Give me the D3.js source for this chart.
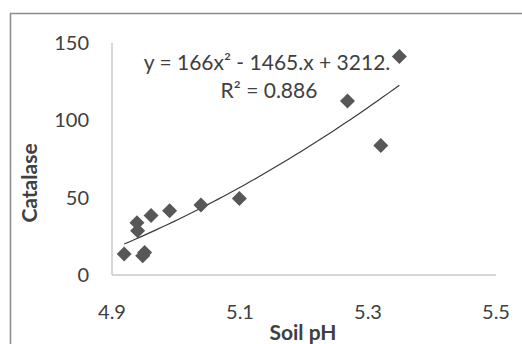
<!DOCTYPE html>
<html><head><meta charset="utf-8">
<script src="https://cdn.jsdelivr.net/npm/d3@7/dist/d3.min.js"></script>
<style>body{margin:0;background:#fff}svg{display:block}text{font-family:Lato,"Open Sans",sans-serif;fill:#404040}</style>
</head><body>
<script>
const soilPH   = [4.919, 4.948, 4.951, 4.939, 4.940, 4.961, 4.990, 5.039, 5.099, 5.268, 5.320, 5.349];
const catalase = [13.6, 12.5, 14.5, 33.8, 28.6, 38.4, 41.6, 45.3, 49.4, 112.5, 83.8, 141.2];
const xTicks = [4.9, 5.1, 5.3, 5.5];
const yTicks = [0, 50, 100, 150];
const eqLabel = "y = 166x\u00b2 - 1465.x + 3212.";
const r2Label = "R\u00b2 = 0.886";

const W = 522, H = 344;
const svg = d3.select("body").append("svg").attr("width", W).attr("height", H);
svg.append("rect").attr("x", 10.5).attr("y", 13.5).attr("width", 530).attr("height", 350)
  .attr("fill", "#fff").attr("stroke", "#8c8c8c").attr("stroke-width", 1.5);

const x = d3.scaleLinear().domain([4.9, 5.5]).range([112, 496]);
const y = d3.scaleLinear().domain([0, 150]).range([275, 43]);

// axes
svg.append("line").attr("x1", x(4.9)).attr("x2", x(4.9)).attr("y1", y(150)).attr("y2", y(0))
  .attr("stroke", "#c8c8c8").attr("stroke-width", 1.5);
svg.append("line").attr("x1", x(4.9)).attr("x2", x(5.5)).attr("y1", y(0)).attr("y2", y(0))
  .attr("stroke", "#c8c8c8").attr("stroke-width", 1.5);

svg.selectAll(".yt").data(yTicks).enter().append("text")
  .attr("x", 89).attr("y", d => y(d)).attr("dy", "0.35em").attr("text-anchor", "end")
  .attr("font-size", 20).text(d => d);
svg.selectAll(".xt").data(xTicks).enter().append("text")
  .attr("x", d => x(d)).attr("y", 319).attr("text-anchor", "middle")
  .attr("font-size", 20).text(d => d3.format(".1f")(d));

svg.append("text").attr("x", 303).attr("y", 340).attr("text-anchor", "middle")
  .attr("font-size", 21).attr("font-weight", "bold").text("Soil pH");
svg.append("text").attr("transform", "translate(37,183) rotate(-90)").attr("text-anchor", "middle")
  .attr("font-size", 21).attr("font-weight", "bold").text("Catalase");

// quadratic least squares fit
function fitQuad(xs, ys) {
  const n = xs.length; const m = d3.mean(xs);
  let S = [[0,0,0],[0,0,0],[0,0,0]], b = [0,0,0];
  for (let i = 0; i < n; i++) {
    const t = xs[i] - m, p = [1, t, t*t];
    for (let r = 0; r < 3; r++) { b[r] += p[r]*ys[i]; for (let c = 0; c < 3; c++) S[r][c] += p[r]*p[c]; }
  }
  for (let k = 0; k < 3; k++) {
    for (let r = k+1; r < 3; r++) {
      const f = S[r][k]/S[k][k];
      for (let c = k; c < 3; c++) S[r][c] -= f*S[k][c];
      b[r] -= f*b[k];
    }
  }
  const co = [0,0,0];
  for (let r = 2; r >= 0; r--) { let s = b[r]; for (let c = r+1; c < 3; c++) s -= S[r][c]*co[c]; co[r] = s/S[r][r]; }
  return v => { const t = v - m; return co[0] + co[1]*t + co[2]*t*t; };
}
const f = fitQuad(soilPH, catalase);
const xmin = d3.min(soilPH), xmax = d3.max(soilPH);
const curve = d3.range(0, 51).map(i => xmin + (xmax - xmin)*i/50);
svg.append("path").datum(curve)
  .attr("d", d3.line().x(d => x(d)).y(d => y(f(d))))
  .attr("fill", "none").attr("stroke", "#3a3a3a").attr("stroke-width", 1.2);

svg.append("text").attr("x", 267).attr("y", 70).attr("text-anchor", "middle")
  .attr("font-size", 21).text(eqLabel);
svg.append("text").attr("x", 269).attr("y", 98).attr("text-anchor", "middle")
  .attr("font-size", 21).text(r2Label);

const s = 7.5;
svg.selectAll(".pt").data(soilPH).enter().append("path")
  .attr("d", `M0,${-s}L${s},0L0,${s}L${-s},0Z`)
  .attr("transform", (d, i) => `translate(${x(d)},${y(catalase[i])})`)
  .attr("fill", "#575757");
</script>
</body></html>
